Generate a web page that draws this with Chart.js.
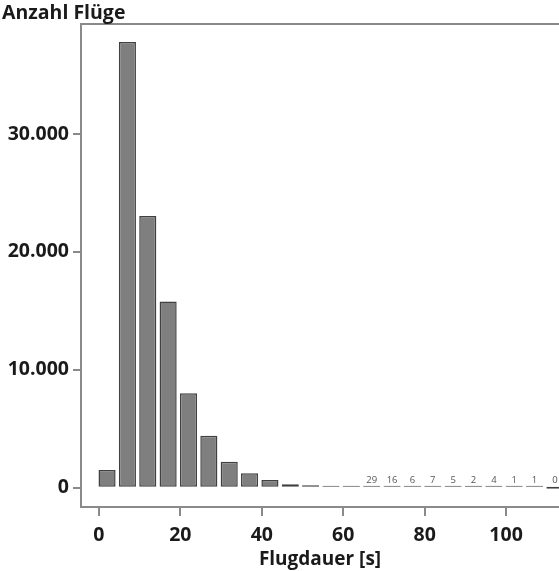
<!DOCTYPE html>
<html>
<head>
<meta charset="utf-8">
<script src="https://cdn.jsdelivr.net/npm/chart.js@4"></script>
<style>
  html, body { margin: 0; padding: 0; background: #fff; }
  #wrap { width: 559px; height: 571px; }
</style>
</head>
<body>
<div id="wrap"><canvas id="chart-flugdauer"></canvas></div>
<script>
// Klassenmitte der Flugdauer (5-s-Klassen) in Sekunden
const binMid = [2, 7, 12, 17, 22, 27, 32, 37, 42, 47, 52, 57, 62, 67, 72, 77, 82, 87, 92, 97, 102, 107, 112];
// Anzahl Flüge je Klasse
const counts = [1500, 37800, 23050, 15800, 8000, 4400, 2200, 1220, 650, 290, 200, 140, 60, 29, 16, 6, 7, 5, 2, 4, 1, 1, 0];
const xTicks = [0, 20, 40, 60, 80, 100];
const yTicks = [0, 10000, 20000, 30000];

const AXIS_COLOR = '#8a8a8a';
const TEXT_COLOR = '#1a1a1a';
const FONT = "'Open Sans', 'DejaVu Sans', sans-serif";

function fmtDE(v) {
  return v.toLocaleString('de-DE');
}

const overlay = {
  id: 'overlay',
  afterDraw(chart) {
    const { ctx, chartArea } = chart;
    const xs = chart.scales.x, ys = chart.scales.y;
    ctx.save();
    // obere Rahmenlinie
    ctx.strokeStyle = AXIS_COLOR;
    ctx.lineWidth = 2;
    ctx.beginPath();
    ctx.moveTo(chartArea.left, chartArea.top);
    ctx.lineTo(chartArea.right, chartArea.top);
    ctx.stroke();
    // Titel y-Achse
    ctx.fillStyle = TEXT_COLOR;
    ctx.font = `bold 19.5px ${FONT}`;
    ctx.textAlign = 'left';
    ctx.textBaseline = 'bottom';
    ctx.fillText('Anzahl Flüge', 2, chartArea.top - 1);
    // kleine Werte (ab 65 s) beschriften
    ctx.fillStyle = '#555';
    ctx.font = `9.5px ${FONT}`;
    ctx.textAlign = 'center';
    ctx.textBaseline = 'bottom';
    counts.forEach((c, i) => {
      if (i < 13) return;
      const px = xs.getPixelForValue(binMid[i]);
      const py = ys.getPixelForValue(0) - 3;
      ctx.fillText(String(c), px, py);
    });
    ctx.restore();
  },
};

new Chart(document.getElementById('chart-flugdauer'), {
  type: 'bar',
  data: {
    datasets: [{
      data: binMid.map((x, i) => ({ x, y: counts[i] })),
      backgroundColor: '#7f7f7f',
      borderColor: '#404040',
      borderWidth: 1.5,
      borderSkipped: false,
      minBarLength: 2,
      barPercentage: 0.84,
      categoryPercentage: 1.0,
    }],
  },
  options: {
    responsive: true,
    maintainAspectRatio: false,
    animation: false,
    layout: { padding: { top: 24, right: 0, left: 0, bottom: 0 } },
    plugins: {
      legend: { display: false },
      tooltip: { enabled: false },
    },
    scales: {
      x: {
        type: 'linear',
        offset: false,
        min: -4.4,
        max: 113,
        afterBuildTicks: s => { s.ticks = xTicks.map(v => ({ value: v })); },
        afterFit: s => { s.height = 64; },
        border: { color: AXIS_COLOR, width: 2 },
        grid: { offset: false, drawOnChartArea: false, color: AXIS_COLOR, tickLength: 9, lineWidth: 2 },
        ticks: { color: TEXT_COLOR, font: { family: FONT, size: 19.5, weight: 'bold' }, padding: 8, maxRotation: 0 },
        title: { display: true, text: 'Flugdauer [s]', color: TEXT_COLOR, font: { family: FONT, size: 19, weight: 'bold' }, padding: { top: 0, bottom: 0 } },
      },
      y: {
        min: -1640,
        max: 39330,
        afterBuildTicks: s => { s.ticks = yTicks.map(v => ({ value: v })); },
        afterFit: s => { s.width = 81; },
        border: { color: AXIS_COLOR, width: 2 },
        grid: { drawOnChartArea: false, color: AXIS_COLOR, tickLength: 8, lineWidth: 2 },
        ticks: { color: TEXT_COLOR, font: { family: FONT, size: 19.5, weight: 'bold' }, padding: 4, callback: v => fmtDE(v) },
      },
    },
  },
  plugins: [overlay],
});
</script>
</body>
</html>
